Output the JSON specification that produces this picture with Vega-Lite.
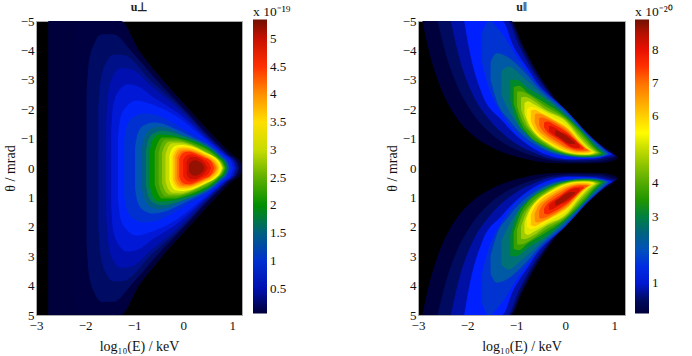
{"$schema":"https://vega.github.io/schema/vega-lite/v6.json","background":"white","padding":{"left":2,"top":0,"right":0,"bottom":0},"bounds":"flush","spacing":176,
"config":{"view":{"fill":"#000000","stroke":"#aaaaaa"},"font":"Liberation Serif","axis":{"grid":false,"ticks":false,"domain":false,"labelFlush":false,"labelOverlap":false,"labelFont":"Liberation Serif","titleFont":"Liberation Serif","labelFontSize":13,"titleFontSize":14,"labelColor":"#111111","titleColor":"#111111","titleFontWeight":"normal"},"legend":{"padding":0,"labelFont":"Liberation Serif","titleFont":"Liberation Serif","labelFontSize":13,"titleFontSize":13.5,"titleFontWeight":"normal","labelColor":"#111111","titleColor":"#111111"},"title":{"font":"Liberation Serif","fontSize":12,"fontWeight":"bold","offset":-9,"color":"#222222"}},
"datasets":{"left":[
{"l":0.1,"x":-2.75,"a":-5,"b":5},{"l":0.1,"x":-1.27,"a":-5,"b":5},{"l":0.1,"x":-0.9,"a":-4,"b":4},{"l":0.1,"x":-0.42,"a":-3,"b":3},{"l":0.1,"x":0.12,"a":-2,"b":2},{"l":0.1,"x":0.67,"a":-1,"b":1},{"l":0.1,"x":1,"a":-0.45,"b":0.45},{"l":0.1,"x":1.17,"a":-0.2,"b":0.2},{"l":0.1,"x":1.2,"a":0,"b":0},
{"l":0.2,"x":-2.3,"a":-3.2,"b":3.2},{"l":0.2,"x":-2.25,"a":-4.4,"b":4.4},{"l":0.2,"x":-2.15,"a":-5,"b":5},{"l":0.2,"x":-1.33,"a":-5,"b":5},{"l":0.2,"x":-0.97,"a":-4,"b":4},{"l":0.2,"x":-0.49,"a":-3,"b":3},{"l":0.2,"x":0.06,"a":-2,"b":2},{"l":0.2,"x":0.6,"a":-1.03,"b":1.03},{"l":0.2,"x":0.95,"a":-0.46,"b":0.46},{"l":0.2,"x":1.13,"a":-0.2,"b":0.2},{"l":0.2,"x":1.17,"a":0,"b":0},
{"l":0.3,"x":-1.97,"a":-2.5,"b":2.5},{"l":0.3,"x":-1.93,"a":-3.5,"b":3.5},{"l":0.3,"x":-1.82,"a":-4.2,"b":4.2},{"l":0.3,"x":-1.65,"a":-4.55,"b":4.55},{"l":0.3,"x":-1.42,"a":-4.55,"b":4.55},{"l":0.3,"x":-1.05,"a":-3.95,"b":3.95},{"l":0.3,"x":-0.55,"a":-3,"b":3},{"l":0.3,"x":0.02,"a":-2,"b":2},{"l":0.3,"x":0.56,"a":-1.03,"b":1.03},{"l":0.3,"x":0.92,"a":-0.46,"b":0.46},{"l":0.3,"x":1.1,"a":-0.2,"b":0.2},{"l":0.3,"x":1.14,"a":0,"b":0},
{"l":0.4,"x":-1.73,"a":-2,"b":2},{"l":0.4,"x":-1.68,"a":-3,"b":3},{"l":0.4,"x":-1.55,"a":-3.65,"b":3.65},{"l":0.4,"x":-1.43,"a":-3.85,"b":3.85},{"l":0.4,"x":-1.25,"a":-3.85,"b":3.85},{"l":0.4,"x":-0.62,"a":-2.9,"b":2.9},{"l":0.4,"x":-0.02,"a":-2,"b":2},{"l":0.4,"x":0.52,"a":-1.05,"b":1.05},{"l":0.4,"x":0.9,"a":-0.46,"b":0.46},{"l":0.4,"x":1.07,"a":-0.2,"b":0.2},{"l":0.4,"x":1.11,"a":0,"b":0},
{"l":0.5,"x":-1.57,"a":-1.5,"b":1.5},{"l":0.5,"x":-1.53,"a":-2.5,"b":2.5},{"l":0.5,"x":-1.42,"a":-3.15,"b":3.15},{"l":0.5,"x":-1.27,"a":-3.4,"b":3.4},{"l":0.5,"x":-1.05,"a":-3.35,"b":3.35},{"l":0.5,"x":-0.66,"a":-2.8,"b":2.8},{"l":0.5,"x":-0.05,"a":-1.95,"b":1.95},{"l":0.5,"x":0.48,"a":-1.05,"b":1.05},{"l":0.5,"x":0.87,"a":-0.46,"b":0.46},{"l":0.5,"x":1.04,"a":-0.2,"b":0.2},{"l":0.5,"x":1.08,"a":0,"b":0},
{"l":0.6,"x":-1.47,"a":-1.2,"b":1.2},{"l":0.6,"x":-1.43,"a":-2.1,"b":2.1},{"l":0.6,"x":-1.3,"a":-2.65,"b":2.65},{"l":0.6,"x":-1.13,"a":-2.85,"b":2.85},{"l":0.6,"x":-0.95,"a":-2.8,"b":2.8},{"l":0.6,"x":-0.6,"a":-2.4,"b":2.4},{"l":0.6,"x":-0.09,"a":-1.85,"b":1.85},{"l":0.6,"x":0.45,"a":-1.05,"b":1.05},{"l":0.6,"x":0.85,"a":-0.46,"b":0.46},{"l":0.6,"x":1.02,"a":-0.2,"b":0.2},{"l":0.6,"x":1.06,"a":0,"b":0},
{"l":0.75,"x":-1.33,"a":-1,"b":1},{"l":0.75,"x":-1.28,"a":-1.7,"b":1.7},{"l":0.75,"x":-1.15,"a":-2.1,"b":2.1},{"l":0.75,"x":-0.95,"a":-2.3,"b":2.3},{"l":0.75,"x":-0.7,"a":-2.2,"b":2.2},{"l":0.75,"x":-0.13,"a":-1.75,"b":1.75},{"l":0.75,"x":0.4,"a":-1.05,"b":1.05},{"l":0.75,"x":0.82,"a":-0.46,"b":0.46},{"l":0.75,"x":0.98,"a":-0.2,"b":0.2},{"l":0.75,"x":1.02,"a":0,"b":0},
{"l":1,"x":-1.2,"a":-0.9,"b":0.9},{"l":1,"x":-1.15,"a":-1.4,"b":1.4},{"l":1,"x":-1,"a":-1.75,"b":1.75},{"l":1,"x":-0.8,"a":-1.85,"b":1.85},{"l":1,"x":-0.55,"a":-1.8,"b":1.8},{"l":1,"x":-0.15,"a":-1.47,"b":1.47},{"l":1,"x":0.2,"a":-1.13,"b":1.13},{"l":1,"x":0.55,"a":-0.79,"b":0.79},{"l":1,"x":0.78,"a":-0.48,"b":0.48},{"l":1,"x":0.94,"a":-0.18,"b":0.18},{"l":1,"x":0.98,"a":0,"b":0},
{"l":1.25,"x":-0.98,"a":-0.7,"b":0.7},{"l":1.25,"x":-0.93,"a":-1.15,"b":1.15},{"l":1.25,"x":-0.8,"a":-1.45,"b":1.45},{"l":1.25,"x":-0.6,"a":-1.55,"b":1.55},{"l":1.25,"x":-0.4,"a":-1.5,"b":1.5},{"l":1.25,"x":-0.1,"a":-1.28,"b":1.28},{"l":1.25,"x":0.25,"a":-1,"b":1},{"l":1.25,"x":0.55,"a":-0.74,"b":0.74},{"l":1.25,"x":0.76,"a":-0.44,"b":0.44},{"l":1.25,"x":0.91,"a":-0.17,"b":0.17},{"l":1.25,"x":0.94,"a":0,"b":0},
{"l":1.5,"x":-0.85,"a":-0.6,"b":0.6},{"l":1.5,"x":-0.8,"a":-1,"b":1},{"l":1.5,"x":-0.68,"a":-1.3,"b":1.3},{"l":1.5,"x":-0.5,"a":-1.4,"b":1.4},{"l":1.5,"x":-0.3,"a":-1.35,"b":1.35},{"l":1.5,"x":-0.05,"a":-1.14,"b":1.14},{"l":1.5,"x":0.28,"a":-0.93,"b":0.93},{"l":1.5,"x":0.55,"a":-0.7,"b":0.7},{"l":1.5,"x":0.75,"a":-0.41,"b":0.41},{"l":1.5,"x":0.89,"a":-0.16,"b":0.16},{"l":1.5,"x":0.92,"a":0,"b":0},
{"l":1.75,"x":-0.76,"a":-0.6,"b":0.6},{"l":1.75,"x":-0.7,"a":-1,"b":1},{"l":1.75,"x":-0.58,"a":-1.2,"b":1.2},{"l":1.75,"x":-0.42,"a":-1.27,"b":1.27},{"l":1.75,"x":-0.2,"a":-1.2,"b":1.2},{"l":1.75,"x":0.05,"a":-1.06,"b":1.06},{"l":1.75,"x":0.3,"a":-0.89,"b":0.89},{"l":1.75,"x":0.55,"a":-0.66,"b":0.66},{"l":1.75,"x":0.75,"a":-0.38,"b":0.38},{"l":1.75,"x":0.87,"a":-0.15,"b":0.15},{"l":1.75,"x":0.9,"a":0,"b":0},
{"l":2,"x":-0.68,"a":-0.6,"b":0.6},{"l":2,"x":-0.62,"a":-0.95,"b":0.95},{"l":2,"x":-0.5,"a":-1.14,"b":1.14},{"l":2,"x":-0.3,"a":-1.12,"b":1.12},{"l":2,"x":0,"a":-1,"b":1},{"l":2,"x":0.3,"a":-0.85,"b":0.85},{"l":2,"x":0.55,"a":-0.62,"b":0.62},{"l":2,"x":0.75,"a":-0.35,"b":0.35},{"l":2,"x":0.85,"a":-0.15,"b":0.15},{"l":2,"x":0.88,"a":0,"b":0},
{"l":2.25,"x":-0.58,"a":-0.55,"b":0.55},{"l":2.25,"x":-0.52,"a":-0.85,"b":0.85},{"l":2.25,"x":-0.42,"a":-1.04,"b":1.04},{"l":2.25,"x":-0.22,"a":-1.04,"b":1.04},{"l":2.25,"x":0.05,"a":-0.94,"b":0.94},{"l":2.25,"x":0.33,"a":-0.77,"b":0.77},{"l":2.25,"x":0.55,"a":-0.58,"b":0.58},{"l":2.25,"x":0.72,"a":-0.35,"b":0.35},{"l":2.25,"x":0.83,"a":-0.14,"b":0.14},{"l":2.25,"x":0.86,"a":0,"b":0},
{"l":2.5,"x":-0.5,"a":-0.5,"b":0.5},{"l":2.5,"x":-0.45,"a":-0.8,"b":0.8},{"l":2.5,"x":-0.35,"a":-0.97,"b":0.97},{"l":2.5,"x":-0.18,"a":-0.97,"b":0.97},{"l":2.5,"x":0.08,"a":-0.88,"b":0.88},{"l":2.5,"x":0.35,"a":-0.7,"b":0.7},{"l":2.5,"x":0.55,"a":-0.53,"b":0.53},{"l":2.5,"x":0.7,"a":-0.34,"b":0.34},{"l":2.5,"x":0.81,"a":-0.13,"b":0.13},{"l":2.5,"x":0.84,"a":0,"b":0},
{"l":2.75,"x":-0.43,"a":-0.5,"b":0.5},{"l":2.75,"x":-0.38,"a":-0.75,"b":0.75},{"l":2.75,"x":-0.28,"a":-0.9,"b":0.9},{"l":2.75,"x":-0.12,"a":-0.9,"b":0.9},{"l":2.75,"x":0.1,"a":-0.83,"b":0.83},{"l":2.75,"x":0.35,"a":-0.65,"b":0.65},{"l":2.75,"x":0.55,"a":-0.47,"b":0.47},{"l":2.75,"x":0.69,"a":-0.32,"b":0.32},{"l":2.75,"x":0.79,"a":-0.12,"b":0.12},{"l":2.75,"x":0.82,"a":0,"b":0},
{"l":3,"x":-0.36,"a":-0.45,"b":0.45},{"l":3,"x":-0.31,"a":-0.7,"b":0.7},{"l":3,"x":-0.22,"a":-0.84,"b":0.84},{"l":3,"x":-0.08,"a":-0.84,"b":0.84},{"l":3,"x":0.14,"a":-0.77,"b":0.77},{"l":3,"x":0.4,"a":-0.58,"b":0.58},{"l":3,"x":0.6,"a":-0.41,"b":0.41},{"l":3,"x":0.7,"a":-0.3,"b":0.3},{"l":3,"x":0.78,"a":-0.12,"b":0.12},{"l":3,"x":0.81,"a":0,"b":0},
{"l":3.25,"x":-0.28,"a":-0.42,"b":0.42},{"l":3.25,"x":-0.23,"a":-0.64,"b":0.64},{"l":3.25,"x":-0.15,"a":-0.76,"b":0.76},{"l":3.25,"x":-0.05,"a":-0.78,"b":0.78},{"l":3.25,"x":0.19,"a":-0.72,"b":0.72},{"l":3.25,"x":0.46,"a":-0.51,"b":0.51},{"l":3.25,"x":0.65,"a":-0.35,"b":0.35},{"l":3.25,"x":0.76,"a":-0.13,"b":0.13},{"l":3.25,"x":0.79,"a":0,"b":0},
{"l":3.5,"x":-0.24,"a":-0.4,"b":0.4},{"l":3.5,"x":-0.19,"a":-0.6,"b":0.6},{"l":3.5,"x":-0.1,"a":-0.72,"b":0.72},{"l":3.5,"x":0,"a":-0.74,"b":0.74},{"l":3.5,"x":0.2,"a":-0.68,"b":0.68},{"l":3.5,"x":0.46,"a":-0.48,"b":0.48},{"l":3.5,"x":0.62,"a":-0.34,"b":0.34},{"l":3.5,"x":0.73,"a":-0.13,"b":0.13},{"l":3.5,"x":0.76,"a":0,"b":0},
{"l":3.75,"x":-0.2,"a":-0.4,"b":0.4},{"l":3.75,"x":-0.15,"a":-0.58,"b":0.58},{"l":3.75,"x":-0.06,"a":-0.68,"b":0.68},{"l":3.75,"x":0.04,"a":-0.69,"b":0.69},{"l":3.75,"x":0.22,"a":-0.63,"b":0.63},{"l":3.75,"x":0.44,"a":-0.46,"b":0.46},{"l":3.75,"x":0.6,"a":-0.32,"b":0.32},{"l":3.75,"x":0.7,"a":-0.12,"b":0.12},{"l":3.75,"x":0.73,"a":0,"b":0},
{"l":4,"x":-0.16,"a":-0.38,"b":0.38},{"l":4,"x":-0.11,"a":-0.55,"b":0.55},{"l":4,"x":-0.02,"a":-0.63,"b":0.63},{"l":4,"x":0.08,"a":-0.63,"b":0.63},{"l":4,"x":0.25,"a":-0.56,"b":0.56},{"l":4,"x":0.44,"a":-0.42,"b":0.42},{"l":4,"x":0.58,"a":-0.28,"b":0.28},{"l":4,"x":0.67,"a":-0.11,"b":0.11},{"l":4,"x":0.7,"a":0,"b":0},
{"l":4.25,"x":-0.12,"a":-0.35,"b":0.35},{"l":4.25,"x":-0.07,"a":-0.5,"b":0.5},{"l":4.25,"x":0.02,"a":-0.59,"b":0.59},{"l":4.25,"x":0.1,"a":-0.59,"b":0.59},{"l":4.25,"x":0.3,"a":-0.49,"b":0.49},{"l":4.25,"x":0.44,"a":-0.38,"b":0.38},{"l":4.25,"x":0.56,"a":-0.26,"b":0.26},{"l":4.25,"x":0.65,"a":-0.1,"b":0.1},{"l":4.25,"x":0.67,"a":0,"b":0},
{"l":4.5,"x":-0.08,"a":-0.3,"b":0.3},{"l":4.5,"x":-0.04,"a":-0.45,"b":0.45},{"l":4.5,"x":0.05,"a":-0.54,"b":0.54},{"l":4.5,"x":0.13,"a":-0.55,"b":0.55},{"l":4.5,"x":0.3,"a":-0.46,"b":0.46},{"l":4.5,"x":0.43,"a":-0.36,"b":0.36},{"l":4.5,"x":0.55,"a":-0.26,"b":0.26},{"l":4.5,"x":0.61,"a":-0.1,"b":0.1},{"l":4.5,"x":0.63,"a":0,"b":0},
{"l":4.75,"x":0,"a":-0.27,"b":0.27},{"l":4.75,"x":0.04,"a":-0.38,"b":0.38},{"l":4.75,"x":0.1,"a":-0.45,"b":0.45},{"l":4.75,"x":0.17,"a":-0.47,"b":0.47},{"l":4.75,"x":0.3,"a":-0.4,"b":0.4},{"l":4.75,"x":0.42,"a":-0.3,"b":0.3},{"l":4.75,"x":0.52,"a":-0.18,"b":0.18},{"l":4.75,"x":0.57,"a":0,"b":0},
{"l":5,"x":0.07,"a":-0.2,"b":0.2},{"l":5,"x":0.11,"a":-0.32,"b":0.32},{"l":5,"x":0.17,"a":-0.37,"b":0.37},{"l":5,"x":0.25,"a":-0.37,"b":0.37},{"l":5,"x":0.35,"a":-0.3,"b":0.3},{"l":5,"x":0.44,"a":-0.17,"b":0.17},{"l":5,"x":0.5,"a":0,"b":0},
{"l":5.2,"x":0.12,"a":-0.12,"b":0.12},{"l":5.2,"x":0.17,"a":-0.22,"b":0.22},{"l":5.2,"x":0.25,"a":-0.26,"b":0.26},{"l":5.2,"x":0.33,"a":-0.2,"b":0.2},{"l":5.2,"x":0.4,"a":-0.12,"b":0.12},{"l":5.2,"x":0.43,"a":0,"b":0}
],"right":[
{"l":0.25,"x":-2.91,"a":-5,"b":-5},{"l":0.25,"x":-2.78,"a":-5,"b":-4},{"l":0.25,"x":-2.6,"a":-5,"b":-3},{"l":0.25,"x":-2.3,"a":-5,"b":-1.93},{"l":0.25,"x":-1.9,"a":-5,"b":-1.14},{"l":0.25,"x":-1.48,"a":-5,"b":-0.69},{"l":0.25,"x":-1.1,"a":-5,"b":-0.43},{"l":0.25,"x":-0.87,"a":-4.2,"b":-0.33},{"l":0.25,"x":-0.6,"a":-3.35,"b":-0.23},{"l":0.25,"x":-0.26,"a":-2.5,"b":-0.17},{"l":0.25,"x":0.22,"a":-1.6,"b":-0.15},{"l":0.25,"x":0.69,"a":-0.85,"b":-0.17},{"l":0.25,"x":0.97,"a":-0.52,"b":-0.24},{"l":0.25,"x":1.09,"a":-0.35,"b":-0.35},
{"l":0.5,"x":-2.6,"a":-5,"b":-5},{"l":0.5,"x":-2.42,"a":-5,"b":-3.8},{"l":0.5,"x":-2.2,"a":-5,"b":-2.8},{"l":0.5,"x":-1.9,"a":-5,"b":-1.9},{"l":0.5,"x":-1.5,"a":-5,"b":-1.15},{"l":0.5,"x":-1.13,"a":-5,"b":-0.73},{"l":0.5,"x":-0.9,"a":-4.2,"b":-0.55},{"l":0.5,"x":-0.63,"a":-3.35,"b":-0.4},{"l":0.5,"x":-0.29,"a":-2.5,"b":-0.26},{"l":0.5,"x":0.19,"a":-1.58,"b":-0.2},{"l":0.5,"x":0.66,"a":-0.85,"b":-0.22},{"l":0.5,"x":0.94,"a":-0.52,"b":-0.32},{"l":0.5,"x":1.05,"a":-0.38,"b":-0.38},
{"l":0.8,"x":-2.33,"a":-5,"b":-5},{"l":0.8,"x":-2.15,"a":-5,"b":-3.7},{"l":0.8,"x":-1.9,"a":-5,"b":-2.55},{"l":0.8,"x":-1.55,"a":-5,"b":-1.65},{"l":0.8,"x":-1.17,"a":-5,"b":-1.03},{"l":0.8,"x":-0.95,"a":-4.2,"b":-0.77},{"l":0.8,"x":-0.68,"a":-3.35,"b":-0.55},{"l":0.8,"x":-0.31,"a":-2.48,"b":-0.33},{"l":0.8,"x":0.17,"a":-1.56,"b":-0.26},{"l":0.8,"x":0.63,"a":-0.85,"b":-0.28},{"l":0.8,"x":0.9,"a":-0.52,"b":-0.37},{"l":0.8,"x":1.02,"a":-0.42,"b":-0.42},
{"l":1.2,"x":-2.06,"a":-5,"b":-5},{"l":1.2,"x":-1.92,"a":-5,"b":-3.75},{"l":1.2,"x":-1.69,"a":-5,"b":-2.5},{"l":1.2,"x":-1.28,"a":-5,"b":-1.6},{"l":1.2,"x":-1.07,"a":-4.2,"b":-1.22},{"l":1.2,"x":-0.73,"a":-3.3,"b":-0.75},{"l":1.2,"x":-0.38,"a":-2.42,"b":-0.45},{"l":1.2,"x":0.13,"a":-1.55,"b":-0.3},{"l":1.2,"x":0.6,"a":-0.85,"b":-0.32},{"l":1.2,"x":0.87,"a":-0.56,"b":-0.42},{"l":1.2,"x":0.97,"a":-0.46,"b":-0.46},
{"l":1.7,"x":-1.7,"a":-4.6,"b":-3.6},{"l":1.7,"x":-1.55,"a":-5,"b":-2.7},{"l":1.7,"x":-1.3,"a":-4.6,"b":-1.85},{"l":1.7,"x":-0.95,"a":-3.7,"b":-1.1},{"l":1.7,"x":-0.5,"a":-2.75,"b":-0.6},{"l":1.7,"x":0,"a":-2,"b":-0.38},{"l":1.7,"x":0.5,"a":-1.1,"b":-0.33},{"l":1.7,"x":0.8,"a":-0.65,"b":-0.4},{"l":1.7,"x":0.92,"a":-0.47,"b":-0.47},
{"l":2.2,"x":-1.52,"a":-3.6,"b":-3},{"l":2.2,"x":-1.4,"a":-3.9,"b":-2.3},{"l":2.2,"x":-1.15,"a":-3.75,"b":-1.65},{"l":2.2,"x":-0.85,"a":-3.3,"b":-1.1},{"l":2.2,"x":-0.5,"a":-2.65,"b":-0.7},{"l":2.2,"x":0,"a":-1.93,"b":-0.42},{"l":2.2,"x":0.5,"a":-1.05,"b":-0.35},{"l":2.2,"x":0.8,"a":-0.6,"b":-0.42},{"l":2.2,"x":0.88,"a":-0.48,"b":-0.48},
{"l":2.7,"x":-1.3,"a":-3.3,"b":-2.5},{"l":2.7,"x":-1.15,"a":-3.45,"b":-1.95},{"l":2.7,"x":-0.9,"a":-3.15,"b":-1.35},{"l":2.7,"x":-0.5,"a":-2.55,"b":-0.75},{"l":2.7,"x":0,"a":-1.85,"b":-0.44},{"l":2.7,"x":0.5,"a":-1,"b":-0.37},{"l":2.7,"x":0.75,"a":-0.6,"b":-0.42},{"l":2.7,"x":0.84,"a":-0.48,"b":-0.48},
{"l":3.2,"x":-1.12,"a":-3,"b":-2.3},{"l":3.2,"x":-1,"a":-3,"b":-1.65},{"l":3.2,"x":-0.75,"a":-2.7,"b":-1.1},{"l":3.2,"x":-0.45,"a":-2.4,"b":-0.75},{"l":3.2,"x":0,"a":-1.8,"b":-0.46},{"l":3.2,"x":0.4,"a":-1.15,"b":-0.38},{"l":3.2,"x":0.7,"a":-0.62,"b":-0.42},{"l":3.2,"x":0.8,"a":-0.48,"b":-0.48},
{"l":3.7,"x":-1.05,"a":-2.75,"b":-2.2},{"l":3.7,"x":-0.95,"a":-2.8,"b":-1.7},{"l":3.7,"x":-0.75,"a":-2.55,"b":-1.15},{"l":3.7,"x":-0.45,"a":-2.25,"b":-0.78},{"l":3.7,"x":0,"a":-1.75,"b":-0.48},{"l":3.7,"x":0.4,"a":-1.1,"b":-0.4},{"l":3.7,"x":0.65,"a":-0.63,"b":-0.43},{"l":3.7,"x":0.75,"a":-0.5,"b":-0.5},
{"l":4.2,"x":-0.98,"a":-2.6,"b":-2.1},{"l":4.2,"x":-0.9,"a":-2.6,"b":-1.7},{"l":4.2,"x":-0.7,"a":-2.45,"b":-1.2},{"l":4.2,"x":-0.42,"a":-2.12,"b":-0.82},{"l":4.2,"x":0,"a":-1.7,"b":-0.5},{"l":4.2,"x":0.38,"a":-1.05,"b":-0.42},{"l":4.2,"x":0.62,"a":-0.62,"b":-0.45},{"l":4.2,"x":0.7,"a":-0.52,"b":-0.52},
{"l":4.7,"x":-0.9,"a":-2.4,"b":-2},{"l":4.7,"x":-0.83,"a":-2.42,"b":-1.65},{"l":4.7,"x":-0.65,"a":-2.3,"b":-1.2},{"l":4.7,"x":-0.4,"a":-2,"b":-0.85},{"l":4.7,"x":0,"a":-1.65,"b":-0.52},{"l":4.7,"x":0.35,"a":-1,"b":-0.44},{"l":4.7,"x":0.58,"a":-0.62,"b":-0.47},{"l":4.7,"x":0.66,"a":-0.53,"b":-0.53},
{"l":5.2,"x":-0.83,"a":-2.2,"b":-1.85},{"l":5.2,"x":-0.77,"a":-2.27,"b":-1.58},{"l":5.2,"x":-0.62,"a":-2.15,"b":-1.2},{"l":5.2,"x":-0.38,"a":-1.92,"b":-0.88},{"l":5.2,"x":0,"a":-1.6,"b":-0.54},{"l":5.2,"x":0.33,"a":-0.95,"b":-0.46},{"l":5.2,"x":0.55,"a":-0.6,"b":-0.48},{"l":5.2,"x":0.62,"a":-0.54,"b":-0.54},
{"l":5.7,"x":-0.78,"a":-2,"b":-1.72},{"l":5.7,"x":-0.7,"a":-2.08,"b":-1.4},{"l":5.7,"x":-0.55,"a":-2,"b":-1.08},{"l":5.7,"x":-0.3,"a":-1.78,"b":-0.8},{"l":5.7,"x":0.05,"a":-1.42,"b":-0.55},{"l":5.7,"x":0.3,"a":-0.92,"b":-0.48},{"l":5.7,"x":0.5,"a":-0.6,"b":-0.47},{"l":5.7,"x":0.59,"a":-0.52,"b":-0.52},
{"l":6.2,"x":-0.7,"a":-1.95,"b":-1.6},{"l":6.2,"x":-0.63,"a":-1.98,"b":-1.35},{"l":6.2,"x":-0.5,"a":-1.88,"b":-1.1},{"l":6.2,"x":-0.25,"a":-1.66,"b":-0.82},{"l":6.2,"x":0.05,"a":-1.36,"b":-0.58},{"l":6.2,"x":0.3,"a":-0.9,"b":-0.5},{"l":6.2,"x":0.47,"a":-0.64,"b":-0.52},{"l":6.2,"x":0.55,"a":-0.55,"b":-0.55},
{"l":6.7,"x":-0.62,"a":-1.82,"b":-1.55},{"l":6.7,"x":-0.55,"a":-1.85,"b":-1.3},{"l":6.7,"x":-0.42,"a":-1.78,"b":-1.1},{"l":6.7,"x":-0.2,"a":-1.58,"b":-0.85},{"l":6.7,"x":0.08,"a":-1.27,"b":-0.62},{"l":6.7,"x":0.3,"a":-0.87,"b":-0.54},{"l":6.7,"x":0.45,"a":-0.64,"b":-0.56},{"l":6.7,"x":0.52,"a":-0.58,"b":-0.58},
{"l":7.2,"x":-0.53,"a":-1.7,"b":-1.45},{"l":7.2,"x":-0.47,"a":-1.72,"b":-1.28},{"l":7.2,"x":-0.35,"a":-1.65,"b":-1.1},{"l":7.2,"x":-0.15,"a":-1.48,"b":-0.88},{"l":7.2,"x":0.08,"a":-1.2,"b":-0.66},{"l":7.2,"x":0.28,"a":-0.85,"b":-0.58},{"l":7.2,"x":0.42,"a":-0.66,"b":-0.58},{"l":7.2,"x":0.48,"a":-0.6,"b":-0.6},
{"l":7.7,"x":-0.43,"a":-1.55,"b":-1.38},{"l":7.7,"x":-0.36,"a":-1.58,"b":-1.22},{"l":7.7,"x":-0.25,"a":-1.5,"b":-1.08},{"l":7.7,"x":-0.08,"a":-1.34,"b":-0.9},{"l":7.7,"x":0.1,"a":-1.12,"b":-0.7},{"l":7.7,"x":0.28,"a":-0.84,"b":-0.63},{"l":7.7,"x":0.38,"a":-0.68,"b":-0.63},
{"l":8.2,"x":-0.33,"a":-1.43,"b":-1.25},{"l":8.2,"x":-0.25,"a":-1.4,"b":-1.15},{"l":8.2,"x":-0.12,"a":-1.27,"b":-1},{"l":8.2,"x":0.03,"a":-1.15,"b":-0.82},{"l":8.2,"x":0.17,"a":-0.98,"b":-0.7},{"l":8.2,"x":0.3,"a":-0.76,"b":-0.68},
{"l":8.6,"x":-0.2,"a":-1.28,"b":-1.12},{"l":8.6,"x":-0.1,"a":-1.22,"b":-1.02},{"l":8.6,"x":0.02,"a":-1.1,"b":-0.88},{"l":8.6,"x":0.12,"a":-0.97,"b":-0.82},{"l":8.6,"x":0.2,"a":-0.86,"b":-0.82},
{"l":0.25,"x":-2.91,"a":5,"b":5},{"l":0.25,"x":-2.78,"a":4,"b":5},{"l":0.25,"x":-2.6,"a":3,"b":5},{"l":0.25,"x":-2.3,"a":1.93,"b":5},{"l":0.25,"x":-1.9,"a":1.14,"b":5},{"l":0.25,"x":-1.48,"a":0.69,"b":5},{"l":0.25,"x":-1.1,"a":0.43,"b":5},{"l":0.25,"x":-0.87,"a":0.33,"b":4.2},{"l":0.25,"x":-0.6,"a":0.23,"b":3.35},{"l":0.25,"x":-0.26,"a":0.17,"b":2.5},{"l":0.25,"x":0.22,"a":0.15,"b":1.6},{"l":0.25,"x":0.69,"a":0.17,"b":0.85},{"l":0.25,"x":0.97,"a":0.24,"b":0.52},{"l":0.25,"x":1.09,"a":0.35,"b":0.35},
{"l":0.5,"x":-2.6,"a":5,"b":5},{"l":0.5,"x":-2.42,"a":3.8,"b":5},{"l":0.5,"x":-2.2,"a":2.8,"b":5},{"l":0.5,"x":-1.9,"a":1.9,"b":5},{"l":0.5,"x":-1.5,"a":1.15,"b":5},{"l":0.5,"x":-1.13,"a":0.73,"b":5},{"l":0.5,"x":-0.9,"a":0.55,"b":4.2},{"l":0.5,"x":-0.63,"a":0.4,"b":3.35},{"l":0.5,"x":-0.29,"a":0.26,"b":2.5},{"l":0.5,"x":0.19,"a":0.2,"b":1.58},{"l":0.5,"x":0.66,"a":0.22,"b":0.85},{"l":0.5,"x":0.94,"a":0.32,"b":0.52},{"l":0.5,"x":1.05,"a":0.38,"b":0.38},
{"l":0.8,"x":-2.33,"a":5,"b":5},{"l":0.8,"x":-2.15,"a":3.7,"b":5},{"l":0.8,"x":-1.9,"a":2.55,"b":5},{"l":0.8,"x":-1.55,"a":1.65,"b":5},{"l":0.8,"x":-1.17,"a":1.03,"b":5},{"l":0.8,"x":-0.95,"a":0.77,"b":4.2},{"l":0.8,"x":-0.68,"a":0.55,"b":3.35},{"l":0.8,"x":-0.31,"a":0.33,"b":2.48},{"l":0.8,"x":0.17,"a":0.26,"b":1.56},{"l":0.8,"x":0.63,"a":0.28,"b":0.85},{"l":0.8,"x":0.9,"a":0.37,"b":0.52},{"l":0.8,"x":1.02,"a":0.42,"b":0.42},
{"l":1.2,"x":-2.06,"a":5,"b":5},{"l":1.2,"x":-1.92,"a":3.75,"b":5},{"l":1.2,"x":-1.69,"a":2.5,"b":5},{"l":1.2,"x":-1.28,"a":1.6,"b":5},{"l":1.2,"x":-1.07,"a":1.22,"b":4.2},{"l":1.2,"x":-0.73,"a":0.75,"b":3.3},{"l":1.2,"x":-0.38,"a":0.45,"b":2.42},{"l":1.2,"x":0.13,"a":0.3,"b":1.55},{"l":1.2,"x":0.6,"a":0.32,"b":0.85},{"l":1.2,"x":0.87,"a":0.42,"b":0.56},{"l":1.2,"x":0.97,"a":0.46,"b":0.46},
{"l":1.7,"x":-1.7,"a":3.6,"b":4.6},{"l":1.7,"x":-1.55,"a":2.7,"b":5},{"l":1.7,"x":-1.3,"a":1.85,"b":4.6},{"l":1.7,"x":-0.95,"a":1.1,"b":3.7},{"l":1.7,"x":-0.5,"a":0.6,"b":2.75},{"l":1.7,"x":0,"a":0.38,"b":2},{"l":1.7,"x":0.5,"a":0.33,"b":1.1},{"l":1.7,"x":0.8,"a":0.4,"b":0.65},{"l":1.7,"x":0.92,"a":0.47,"b":0.47},
{"l":2.2,"x":-1.52,"a":3,"b":3.6},{"l":2.2,"x":-1.4,"a":2.3,"b":3.9},{"l":2.2,"x":-1.15,"a":1.65,"b":3.75},{"l":2.2,"x":-0.85,"a":1.1,"b":3.3},{"l":2.2,"x":-0.5,"a":0.7,"b":2.65},{"l":2.2,"x":0,"a":0.42,"b":1.93},{"l":2.2,"x":0.5,"a":0.35,"b":1.05},{"l":2.2,"x":0.8,"a":0.42,"b":0.6},{"l":2.2,"x":0.88,"a":0.48,"b":0.48},
{"l":2.7,"x":-1.3,"a":2.5,"b":3.3},{"l":2.7,"x":-1.15,"a":1.95,"b":3.45},{"l":2.7,"x":-0.9,"a":1.35,"b":3.15},{"l":2.7,"x":-0.5,"a":0.75,"b":2.55},{"l":2.7,"x":0,"a":0.44,"b":1.85},{"l":2.7,"x":0.5,"a":0.37,"b":1},{"l":2.7,"x":0.75,"a":0.42,"b":0.6},{"l":2.7,"x":0.84,"a":0.48,"b":0.48},
{"l":3.2,"x":-1.12,"a":2.3,"b":3},{"l":3.2,"x":-1,"a":1.65,"b":3},{"l":3.2,"x":-0.75,"a":1.1,"b":2.7},{"l":3.2,"x":-0.45,"a":0.75,"b":2.4},{"l":3.2,"x":0,"a":0.46,"b":1.8},{"l":3.2,"x":0.4,"a":0.38,"b":1.15},{"l":3.2,"x":0.7,"a":0.42,"b":0.62},{"l":3.2,"x":0.8,"a":0.48,"b":0.48},
{"l":3.7,"x":-1.05,"a":2.2,"b":2.75},{"l":3.7,"x":-0.95,"a":1.7,"b":2.8},{"l":3.7,"x":-0.75,"a":1.15,"b":2.55},{"l":3.7,"x":-0.45,"a":0.78,"b":2.25},{"l":3.7,"x":0,"a":0.48,"b":1.75},{"l":3.7,"x":0.4,"a":0.4,"b":1.1},{"l":3.7,"x":0.65,"a":0.43,"b":0.63},{"l":3.7,"x":0.75,"a":0.5,"b":0.5},
{"l":4.2,"x":-0.98,"a":2.1,"b":2.6},{"l":4.2,"x":-0.9,"a":1.7,"b":2.6},{"l":4.2,"x":-0.7,"a":1.2,"b":2.45},{"l":4.2,"x":-0.42,"a":0.82,"b":2.12},{"l":4.2,"x":0,"a":0.5,"b":1.7},{"l":4.2,"x":0.38,"a":0.42,"b":1.05},{"l":4.2,"x":0.62,"a":0.45,"b":0.62},{"l":4.2,"x":0.7,"a":0.52,"b":0.52},
{"l":4.7,"x":-0.9,"a":2,"b":2.4},{"l":4.7,"x":-0.83,"a":1.65,"b":2.42},{"l":4.7,"x":-0.65,"a":1.2,"b":2.3},{"l":4.7,"x":-0.4,"a":0.85,"b":2},{"l":4.7,"x":0,"a":0.52,"b":1.65},{"l":4.7,"x":0.35,"a":0.44,"b":1},{"l":4.7,"x":0.58,"a":0.47,"b":0.62},{"l":4.7,"x":0.66,"a":0.53,"b":0.53},
{"l":5.2,"x":-0.83,"a":1.85,"b":2.2},{"l":5.2,"x":-0.77,"a":1.58,"b":2.27},{"l":5.2,"x":-0.62,"a":1.2,"b":2.15},{"l":5.2,"x":-0.38,"a":0.88,"b":1.92},{"l":5.2,"x":0,"a":0.54,"b":1.6},{"l":5.2,"x":0.33,"a":0.46,"b":0.95},{"l":5.2,"x":0.55,"a":0.48,"b":0.6},{"l":5.2,"x":0.62,"a":0.54,"b":0.54},
{"l":5.7,"x":-0.78,"a":1.72,"b":2},{"l":5.7,"x":-0.7,"a":1.4,"b":2.08},{"l":5.7,"x":-0.55,"a":1.08,"b":2},{"l":5.7,"x":-0.3,"a":0.8,"b":1.78},{"l":5.7,"x":0.05,"a":0.55,"b":1.42},{"l":5.7,"x":0.3,"a":0.48,"b":0.92},{"l":5.7,"x":0.5,"a":0.47,"b":0.6},{"l":5.7,"x":0.59,"a":0.52,"b":0.52},
{"l":6.2,"x":-0.7,"a":1.6,"b":1.95},{"l":6.2,"x":-0.63,"a":1.35,"b":1.98},{"l":6.2,"x":-0.5,"a":1.1,"b":1.88},{"l":6.2,"x":-0.25,"a":0.82,"b":1.66},{"l":6.2,"x":0.05,"a":0.58,"b":1.36},{"l":6.2,"x":0.3,"a":0.5,"b":0.9},{"l":6.2,"x":0.47,"a":0.52,"b":0.64},{"l":6.2,"x":0.55,"a":0.55,"b":0.55},
{"l":6.7,"x":-0.62,"a":1.55,"b":1.82},{"l":6.7,"x":-0.55,"a":1.3,"b":1.85},{"l":6.7,"x":-0.42,"a":1.1,"b":1.78},{"l":6.7,"x":-0.2,"a":0.85,"b":1.58},{"l":6.7,"x":0.08,"a":0.62,"b":1.27},{"l":6.7,"x":0.3,"a":0.54,"b":0.87},{"l":6.7,"x":0.45,"a":0.56,"b":0.64},{"l":6.7,"x":0.52,"a":0.58,"b":0.58},
{"l":7.2,"x":-0.53,"a":1.45,"b":1.7},{"l":7.2,"x":-0.47,"a":1.28,"b":1.72},{"l":7.2,"x":-0.35,"a":1.1,"b":1.65},{"l":7.2,"x":-0.15,"a":0.88,"b":1.48},{"l":7.2,"x":0.08,"a":0.66,"b":1.2},{"l":7.2,"x":0.28,"a":0.58,"b":0.85},{"l":7.2,"x":0.42,"a":0.58,"b":0.66},{"l":7.2,"x":0.48,"a":0.6,"b":0.6},
{"l":7.7,"x":-0.43,"a":1.38,"b":1.55},{"l":7.7,"x":-0.36,"a":1.22,"b":1.58},{"l":7.7,"x":-0.25,"a":1.08,"b":1.5},{"l":7.7,"x":-0.08,"a":0.9,"b":1.34},{"l":7.7,"x":0.1,"a":0.7,"b":1.12},{"l":7.7,"x":0.28,"a":0.63,"b":0.84},{"l":7.7,"x":0.38,"a":0.63,"b":0.68},
{"l":8.2,"x":-0.33,"a":1.25,"b":1.43},{"l":8.2,"x":-0.25,"a":1.15,"b":1.4},{"l":8.2,"x":-0.12,"a":1,"b":1.27},{"l":8.2,"x":0.03,"a":0.82,"b":1.15},{"l":8.2,"x":0.17,"a":0.7,"b":0.98},{"l":8.2,"x":0.3,"a":0.68,"b":0.76},
{"l":8.6,"x":-0.2,"a":1.12,"b":1.28},{"l":8.6,"x":-0.1,"a":1.02,"b":1.22},{"l":8.6,"x":0.02,"a":0.88,"b":1.1},{"l":8.6,"x":0.12,"a":0.82,"b":0.97},{"l":8.6,"x":0.2,"a":0.82,"b":0.86}
]},
"hconcat":[
{"width":206,"height":294,"data":{"name":"left"},"title":"u⊥",
"mark":{"type":"area","orient":"vertical","interpolate":"monotone","clip":true},
"encoding":{
"x":{"field":"x","type":"quantitative","scale":{"domain":[-3,1.2],"nice":false},"axis":{"values":[-3,-2,-1,0,1],"format":"d","title":"log₁₀(E)  / keV","labelPadding":4,"titlePadding":7}},
"y":{"field":"a","type":"quantitative","scale":{"domain":[-5,5],"reverse":true,"nice":false},"axis":{"values":[-5,-4,-3,-2,-1,0,1,2,3,4,5],"format":"d","title":"θ / mrad","labelPadding":2,"titlePadding":3}},
"y2":{"field":"b"},
"detail":{"field":"l"},
"color":{"field":"l","type":"quantitative","scale":{"domain":[0.05,0.2,0.5,0.7,1,1.5,1.8,2,2.5,3,3.3,3.6,4,4.5,4.8,5,5.35],"range":["#000000","#000040","#0010b0","#0020ff","#0030d0","#006080","#008040","#009000","#60b000","#c8dc00","#ffff00","#ffd000","#ff9000","#ff3000","#e81000","#c81000","#701000"]},
"legend":{"orient":"none","legendX":217,"legendY":-16,"type":"gradient","gradientLength":294,"gradientThickness":14,"title":"\u00a0\u00a0\u00a0\u00a0\u00a0x 10⁻¹⁹","format":".2~g","titlePadding":1,"values":[0.5,1,1.5,2,2.5,3,3.5,4,4.5,5],"labelOffset":3,"gradientStrokeColor":"#777777","labelOverlap":false}}}},
{"width":207,"height":294,"data":{"name":"right"},"title":"u‖",
"layer":[
{"transform":[{"filter":"datum.b<=0"}],"mark":{"type":"area","orient":"vertical","interpolate":"monotone","clip":true},
"encoding":{
"x":{"field":"x","type":"quantitative","scale":{"domain":[-3,1.22],"nice":false},"axis":{"values":[-3,-2,-1,0,1],"format":"d","title":"log₁₀(E)  / keV","labelPadding":4,"titlePadding":7}},
"y":{"field":"a","type":"quantitative","scale":{"domain":[-5,5],"reverse":true,"nice":false},"axis":{"values":[-5,-4,-3,-2,-1,0,1,2,3,4,5],"format":"d","title":"θ / mrad","labelPadding":2,"titlePadding":3}},
"y2":{"field":"b"},
"detail":{"field":"l"},
"color":{"field":"l","type":"quantitative","scale":{"domain":[0.1,0.36,0.85,1.2,1.68,2.48,3,3.36,4.15,5.03,5.47,6,6.66,7.5,8,8.37,8.9],"range":["#000000","#000040","#0010b0","#0020ff","#0030d0","#006080","#008040","#009000","#60b000","#c8dc00","#ffff00","#ffd000","#ff9000","#ff3000","#e81000","#c81000","#701000"]},
"legend":{"orient":"none","legendX":217,"legendY":-16,"type":"gradient","gradientLength":294,"gradientThickness":14,"title":"\u00a0\u00a0\u00a0\u00a0\u00a0x 10⁻²⁰","format":".2~g","titlePadding":1,"values":[1,2,3,4,5,6,7,8],"labelOffset":3,"gradientStrokeColor":"#777777","labelOverlap":false}}}},
{"transform":[{"filter":"datum.a>=0"}],"mark":{"type":"area","orient":"vertical","interpolate":"monotone","clip":true},
"encoding":{
"x":{"field":"x","type":"quantitative","scale":{"domain":[-3,1.22],"nice":false},"axis":{"values":[-3,-2,-1,0,1],"format":"d","title":"log₁₀(E)  / keV","labelPadding":4,"titlePadding":7}},
"y":{"field":"a","type":"quantitative","scale":{"domain":[-5,5],"reverse":true,"nice":false},"axis":{"values":[-5,-4,-3,-2,-1,0,1,2,3,4,5],"format":"d","title":"θ / mrad","labelPadding":2,"titlePadding":3}},
"y2":{"field":"b"},
"detail":{"field":"l"},
"color":{"field":"l","type":"quantitative","legend":null}}}
]}
],
"resolve":{"scale":{"color":"independent"}}}
